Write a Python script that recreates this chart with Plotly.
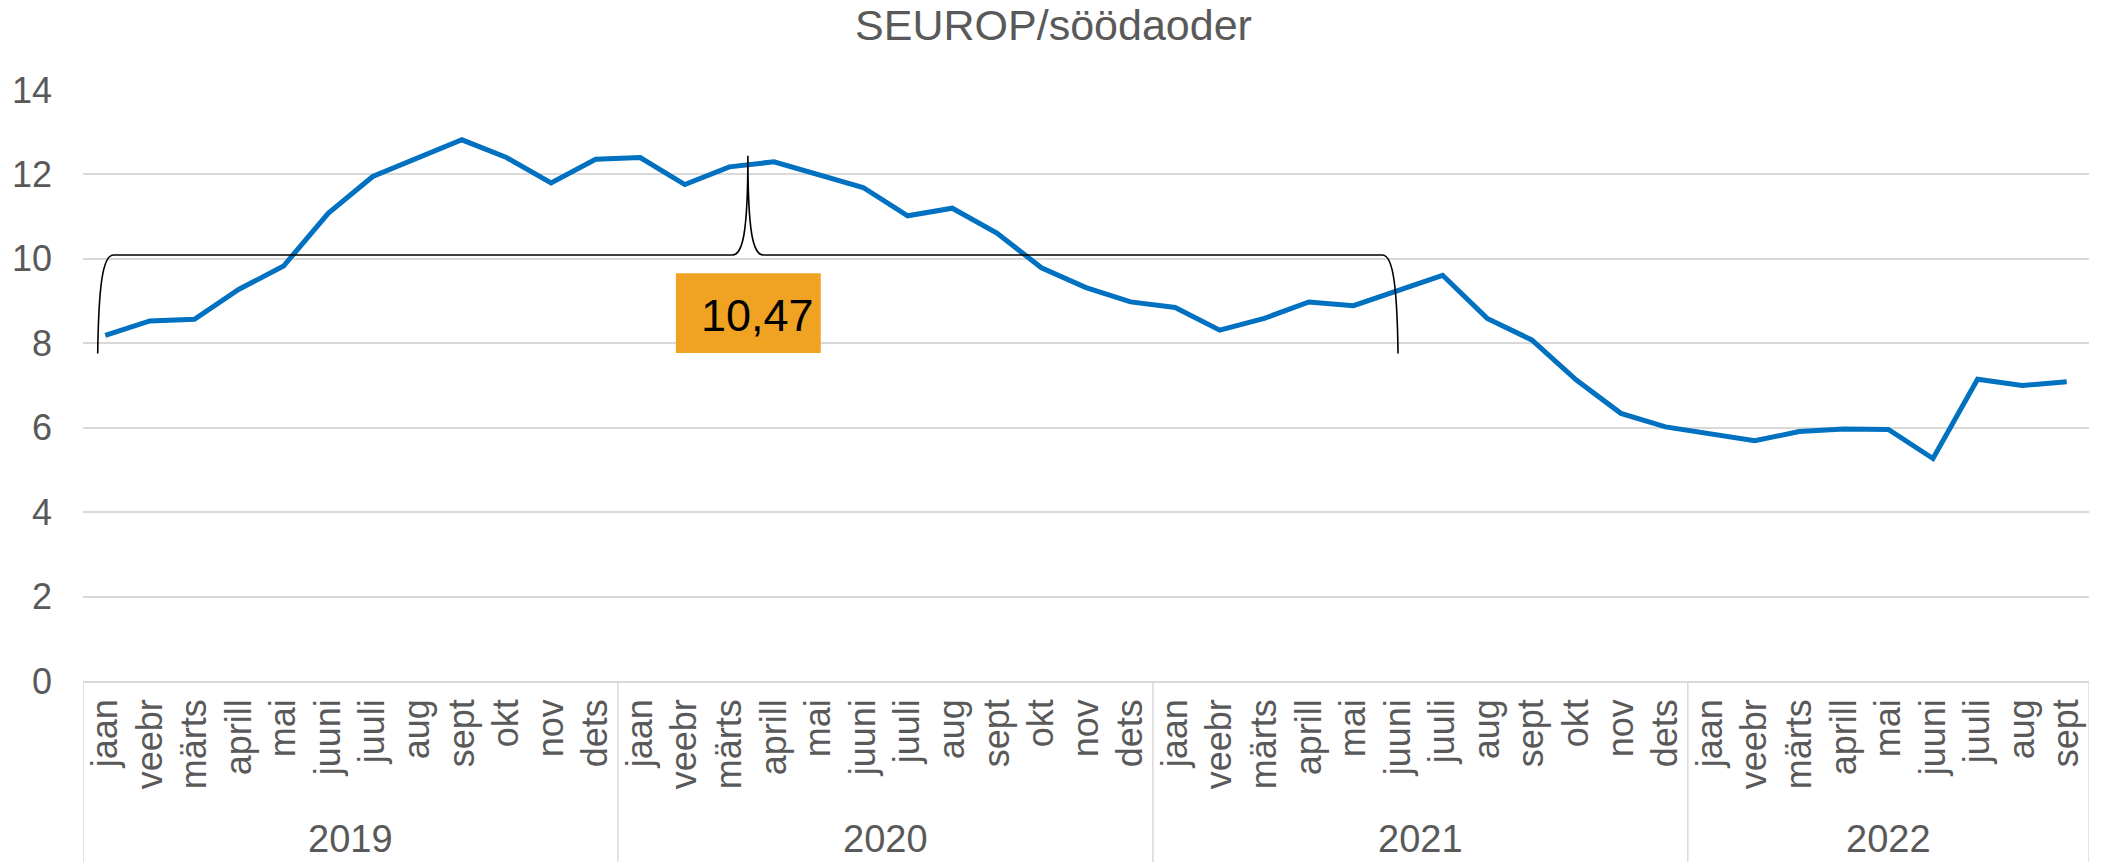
import plotly.graph_objects as go

# ---- data ----
months = ["jaan", "veebr", "märts", "aprill", "mai", "juuni", "juuli", "aug", "sept", "okt", "nov", "dets"]
years = ["2019", "2020", "2021", "2022"]
months_per_year = [12, 12, 12, 9]
values_2019 = [8.19, 8.53, 8.57, 9.28, 9.83, 11.08, 11.95, 12.38, 12.82, 12.40, 11.80, 12.36]
values_2020 = [12.40, 11.76, 12.18, 12.30, 12.00, 11.69, 11.02, 11.20, 10.61, 9.79, 9.32, 8.98]
values_2021 = [8.85, 8.31, 8.59, 8.98, 8.89, 9.26, 9.61, 8.59, 8.08, 7.13, 6.34, 6.02]
values_2022 = [5.85, 5.69, 5.91, 5.97, 5.96, 5.27, 7.15, 7.00, 7.09]
average_label = "10,47"
average_value = 10.09   # level of brace
title_text = "SEUROP/söödaoder"

values = values_2019 + values_2020 + values_2021 + values_2022
tick_text = []
for n in months_per_year:
    tick_text += months[:n]
x_idx = list(range(len(values)))

GRAY = "#595959"
GRID = "#d9d9d9"
BLUE = "#0070C0"
ORANGE = "#F0A323"
NARROW = "Liberation Sans Narrow, Arial Narrow, Liberation Sans, Arial, sans-serif"
SANS = "Liberation Sans, Arial, sans-serif"

fig = go.Figure()
fig.add_trace(go.Scatter(
    x=x_idx, y=values, mode="lines",
    line=dict(color=BLUE, width=5),
    hoverinfo="skip", showlegend=False,
))

n = len(values)
fig.update_layout(
    width=2107, height=862,
    margin=dict(l=83, r=18, t=90, b=181),
    plot_bgcolor="white", paper_bgcolor="white",
    title=dict(text=title_text, x=0.5, xanchor="center", y=1 - 25 / 862, yanchor="middle",
               font=dict(family=SANS, size=43, color=GRAY)),
    xaxis=dict(
        range=[-0.5, n - 0.5], tickmode="array", tickvals=x_idx, ticktext=tick_text,
        tickangle=-90, tickfont=dict(family=SANS, size=36, color=GRAY),
        showgrid=False, zeroline=False, showline=True, linecolor=GRID, linewidth=1.5,
        ticks="", ticklabelstandoff=2, fixedrange=True,
    ),
    yaxis=dict(
        range=[0, 14], dtick=2, tickfont=dict(family=NARROW, size=36, color=GRAY),
        showgrid=True, gridcolor=GRID, gridwidth=1.5, zeroline=False, showline=False,
        ticks="", ticklabelstandoff=30, fixedrange=True,
    ),
)

# year group labels and dividers
start = 0
bottom = -181 / 591
dividers = [-0.5]
for yr, cnt in zip(years, months_per_year):
    center = start + (cnt - 1) / 2
    fig.add_annotation(x=center, y=(681 - 862) / 591, xref="x", yref="paper",
                       text=yr, showarrow=False, yanchor="bottom",
                       font=dict(family=NARROW, size=38, color=GRAY))
    start += cnt
    dividers.append(start - 0.5)
for d in dividers:
    fig.add_shape(type="line", x0=d, x1=d, y0=0, y1=bottom, xref="x", yref="paper",
                  line=dict(color=GRID, width=1.5), layer="above")

# curly brace showing the averaging period
bx0, bx1 = -0.17, 29.0
by, btip, bend = average_value, 12.44, 7.76
bmid = (bx0 + bx1) / 2
path = (
    f"M {bx0},{bend} C {bx0 + 0.02},9.26 {bx0 + 0.10},{by} {bx0 + 0.35},{by} "
    f"L {bmid - 0.35},{by} C {bmid - 0.12},{by} {bmid},{by + 0.5} {bmid},{btip} "
    f"C {bmid},{by + 0.5} {bmid + 0.12},{by} {bmid + 0.35},{by} "
    f"L {bx1 - 0.35},{by} C {bx1 - 0.10},{by} {bx1 - 0.02},9.26 {bx1},{bend}"
)
fig.add_shape(type="path", path=path, xref="x", yref="y",
              line=dict(color="black", width=1.6), layer="above")

# average value label box
fig.add_shape(type="rect", x0=12.8, x1=16.05, y0=7.77, y1=9.66, xref="x", yref="y",
              fillcolor=ORANGE, line=dict(width=0), layer="above")
fig.add_annotation(x=14.62, y=8.66, xref="x", yref="y", text=average_label, showarrow=False,
                   xanchor="center", yanchor="middle",
                   font=dict(family=SANS, size=45, color="black"))

fig.write_html("out.html", config={"displayModeBar": False},
               post_script="document.body.style.margin='0';document.body.style.overflow='hidden';")
